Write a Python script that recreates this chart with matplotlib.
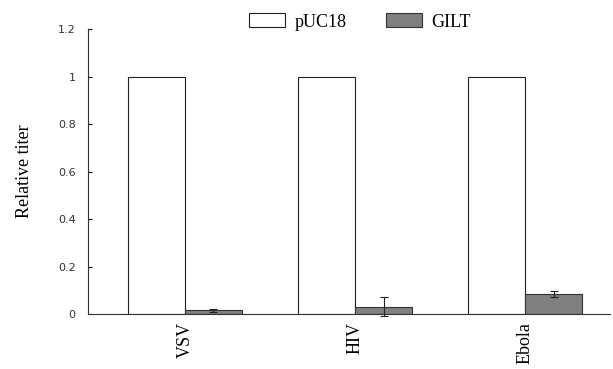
import matplotlib.pyplot as plt
import numpy as np

# Data
viruses = ["VSV", "HIV", "Ebola"]
puc18 = [1.0, 1.0, 1.0]
gilt = [0.015, 0.03, 0.083]
gilt_err = [0.008, 0.04, 0.012]

fig = plt.figure(figsize=(6.13, 3.69), dpi=100)
ax = fig.add_axes([0.1436, 0.149, 0.852, 0.772])

x = np.arange(len(viruses))
w = 0.335
ax.bar(x - w / 2, puc18, w, color="white", edgecolor="#222222", linewidth=0.8, label="pUC18")
bars = ax.bar(x + w / 2, gilt, w, color="#808080", edgecolor="#333333", linewidth=0.8, label="GILT",
              yerr=gilt_err, error_kw=dict(ecolor="#222222", elinewidth=0.8, capsize=3, capthick=0.8))
# let the HIV error bar run below the axis like in the original
for art in bars.errorbar.lines:
    for a in (art if isinstance(art, tuple) else [art]):
        if a is not None:
            a.set_clip_on(False)

ax.set_xlim(-0.57, 2.5)
ax.set_ylim(0, 1.2)
ax.set_yticks([0, 0.2, 0.4, 0.6, 0.8, 1, 1.2])
ax.set_yticklabels(["0", "0.2", "0.4", "0.6", "0.8", "1", "1.2"], fontsize=8, color="#333333")
ax.set_xticks(x)
ax.set_xticklabels(viruses, rotation=90, family="Liberation Serif", fontsize=13)
ax.tick_params(axis="x", length=0, pad=6)
ax.tick_params(axis="y", direction="in", length=3, width=0.8, pad=9)

ax.set_ylabel("Relative titer", family="Liberation Serif", fontsize=13, labelpad=18)

for s in ["top", "right"]:
    ax.spines[s].set_visible(False)
for s in ["left", "bottom"]:
    ax.spines[s].set_linewidth(0.8)
    ax.spines[s].set_color("#333333")

ax.legend(loc="center", bbox_to_anchor=(0.521, 1.025), ncol=2, frameon=False,
          prop={"family": "Liberation Serif", "size": 13}, handlelength=2.0, handleheight=0.8,
          columnspacing=2.2, handletextpad=0.5)

fig.savefig("out.png", dpi=100)
